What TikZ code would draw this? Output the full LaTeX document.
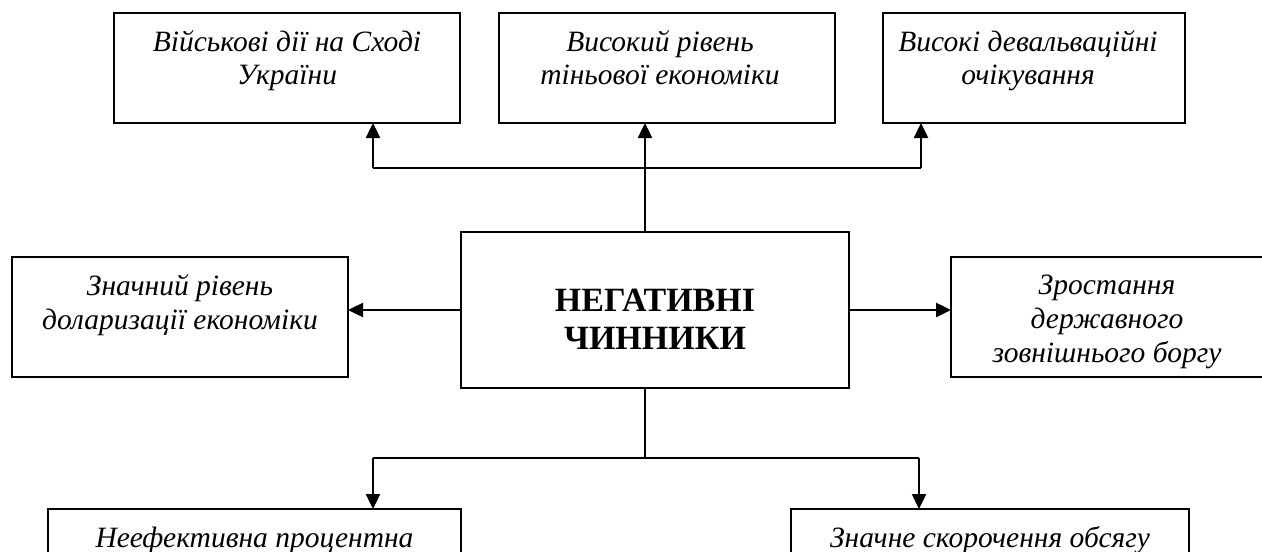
\documentclass[tikz,border=0pt]{standalone}
\usepackage{fontspec}
\setmainfont{Liberation Serif}
\usetikzlibrary{arrows.meta}
\tikzset{
  box/.style={draw, line width=1pt, inner sep=0pt, outer sep=0pt, rectangle},
  lbl/.style={inner sep=0pt, outer sep=0pt, align=center, font=\fontsize{14.75}{17}\selectfont\itshape},
  mainlbl/.style={inner sep=0pt, outer sep=0pt, align=center, font=\fontsize{17}{19}\selectfont\bfseries},
  conn/.style={line width=1.2pt},
  arr/.style={line width=1.2pt, -{Triangle[length=7.5pt,width=7pt]}}
}
\begin{document}
\begin{tikzpicture}[x=0.5pt,y=-0.5pt]
\clip (0,0) rectangle (1262,551);
\fill[white] (0,0) rectangle (1262,551);
% boxes
\node[box, minimum width=173pt, minimum height=55pt] (b1) at (287,68) {};
\node[box, minimum width=168pt, minimum height=55pt] (b2) at (667,68) {};
\node[box, minimum width=151pt, minimum height=55pt] (b3) at (1034,68) {};
\node[box, minimum width=168pt, minimum height=60pt] (bl) at (180,317) {};
\node[box, minimum width=194pt, minimum height=78pt] (c) at (655,310) {};
\node[box, minimum width=156pt, minimum height=60pt] (br) at (1107,317) {};
\node[box, minimum width=206.5pt, minimum height=60pt] (d1) at (254.5,569) {};
\node[box, minimum width=199pt, minimum height=60pt] (d2) at (990,569) {};
% texts
\node[lbl] (t1) at (287,61.2) {\strut Військові дії на Сході\\\strut України};
\node[lbl] (t2) at (660,61.2) {\strut Високий рівень\\\strut тіньової економіки};
\node[lbl] (t3) at (1028,61.2) {\strut Високі девальваційні\\\strut очікування};
\node[lbl] (tl) at (180,305.2) {\strut Значний рівень\\\strut доларизації економіки};
\node[lbl] (tr) at (1107,322) {\strut Зростання\\\strut державного\\\strut зовнішнього боргу};
\node[mainlbl] (tc) at (655,322.4) {\strut НЕГАТИВНІ\\\strut ЧИННИКИ};
\node[lbl] (td1) at (254.5,540.2) {\strut Неефективна процентна};
\node[lbl] (td2) at (990,540.2) {\strut Значне скорочення обсягу};
% junctions
\coordinate (ju) at (645,168);
\coordinate (jl) at (373,168);
\coordinate (jr) at (921,168);
\coordinate (jd) at (645,458);
\coordinate (kl) at (373,458);
\coordinate (kr) at (919,458);
% connectors
\draw[arr] (c.north -| ju) -- (b2.south -| ju);
\draw[conn] (jl) -- (jr);
\draw[arr] (jl) -- (jl |- b1.south);
\draw[arr] (jr) -- (jr |- b3.south);
\draw[arr] (c.west) -- (c.west -| bl.east);
\draw[arr] (c.east) -- (c.east -| br.west);
\draw[conn] (c.south -| jd) -- (jd);
\draw[conn] (kl) -- (kr);
\draw[arr] (kl) -- (kl |- d1.north);
\draw[arr] (kr) -- (kr |- d2.north);
\end{tikzpicture}
\end{document}
